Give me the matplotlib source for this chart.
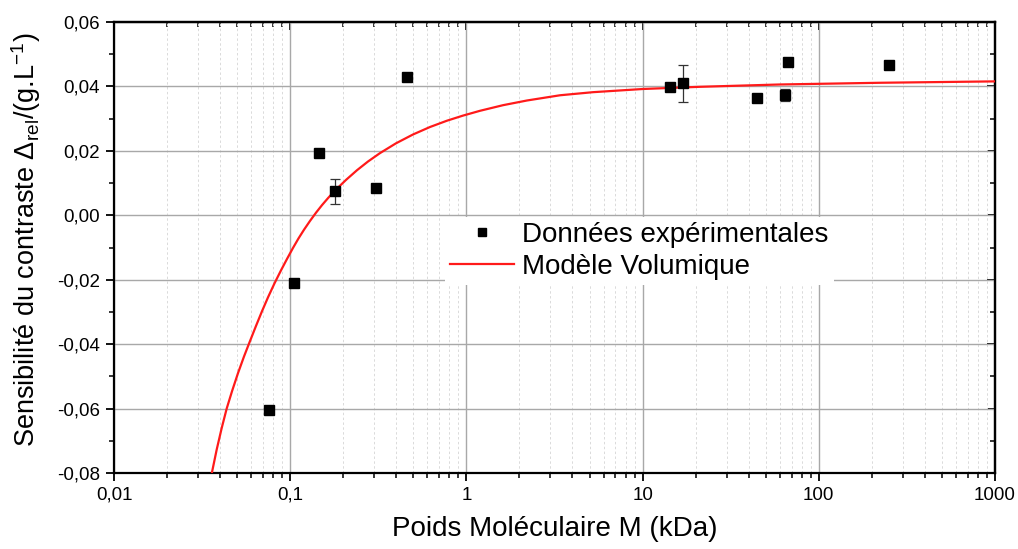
import matplotlib
matplotlib.use("Agg")
import matplotlib.pyplot as plt
from matplotlib.lines import Line2D
from matplotlib.ticker import FixedLocator, FuncFormatter, LogLocator, MultipleLocator, NullFormatter

plt.rcParams['font.family'] = ['Liberation Sans', 'DejaVu Sans']

# Experimental data (molecular weight in kDa, relative contrast sensitivity)
mw_data = [0.0759, 0.105, 0.1455, 0.1795, 0.307, 0.46, 14.3, 17.0, 44.4, 64.6, 66.6, 250.0]
delta_data = [-0.0604, -0.0210, 0.0193, 0.0075, 0.0085, 0.0429, 0.0399, 0.0410, 0.0365, 0.0373, 0.0477, 0.0468]
delta_err = [0.0, 0.0, 0.0, 0.0039, 0.0, 0.0012, 0.0, 0.0057, 0.0, 0.0018, 0.0, 0.0]

# Volumetric model curve
mw_model = [0.035847, 0.038266, 0.040848, 0.043608, 0.046745, 0.05055, 0.054663, 0.058749,
            0.06395, 0.069174, 0.074817, 0.081455, 0.08867, 0.095906, 0.10373, 0.11147,
            0.11977, 0.12954, 0.14011, 0.15155, 0.1639, 0.17963, 0.20737, 0.2394, 0.27637,
            0.32335, 0.39853, 0.49778, 0.62146, 0.77606, 0.95656, 1.1945, 1.6134, 2.2078,
            3.3984, 5.2303, 10.053, 21.17, 60.24, 222.6, 1000.0]
delta_model = [-0.0802, -0.07271, -0.06604, -0.05998, -0.05461, -0.04899, -0.04384, -0.03943,
               -0.03434, -0.02977, -0.02546, -0.02111, -0.01708, -0.01354, -0.01012, -0.00717,
               -0.00447, -0.00174, 0.00081, 0.00317, 0.00534, 0.0077, 0.01099, 0.014, 0.0167,
               0.01931, 0.02235, 0.02509, 0.02741, 0.02937, 0.03095, 0.03244, 0.03418, 0.03564,
               0.03726, 0.03822, 0.03921, 0.03989, 0.04061, 0.04114, 0.04157]

x_ticks = [0.01, 0.1, 1, 10, 100, 1000]
x_tick_labels = ['0,01', '0,1', '1', '10', '100', '1000']

fig = plt.figure(figsize=(10.18, 5.49), dpi=100)
ax = fig.add_axes([0.112, 0.1384, 0.8654, 0.8215])

ax.set_xscale('log')
ax.set_xlim(0.01, 1000)
ax.set_ylim(-0.08, 0.06)

ax.plot(mw_model, delta_model, color='#ff1a1a', lw=1.6, zorder=3, solid_joinstyle='round')
ax.errorbar(mw_data, delta_data, yerr=delta_err, fmt='s', color='black', ms=6.5,
            ecolor='#333333', elinewidth=0.9, capsize=3.6, capthick=0.9, zorder=4)

# ticks
ax.xaxis.set_major_locator(FixedLocator(x_ticks))
ax.xaxis.set_major_formatter(FuncFormatter(lambda v, p: x_tick_labels[x_ticks.index(v)] if v in x_ticks else ''))
ax.xaxis.set_minor_locator(LogLocator(base=10, subs=range(2, 10), numticks=50))
ax.xaxis.set_minor_formatter(NullFormatter())
ax.yaxis.set_major_locator(MultipleLocator(0.02))
ax.yaxis.set_minor_locator(MultipleLocator(0.01))
ax.yaxis.set_major_formatter(FuncFormatter(lambda v, p: f"{v:.2f}".replace('.', ',').replace('−', '-')))

ax.tick_params(axis='both', which='major', direction='out', length=6, width=1.3, labelsize=13.5, pad=4)
ax.tick_params(axis='both', which='minor', direction='out', length=3.5, width=1.1)
ax.tick_params(top=False, right=False)
# inward ticks on top and right
secx = ax.secondary_xaxis('top')
secx.xaxis.set_major_locator(FixedLocator(x_ticks))
secx.xaxis.set_minor_locator(LogLocator(base=10, subs=range(2, 10), numticks=50))
secx.tick_params(which='major', direction='in', length=6, width=1.3, labeltop=False)
secx.tick_params(which='minor', direction='in', length=3.5, width=1.1)
secx.xaxis.set_major_formatter(NullFormatter())
secx.xaxis.set_minor_formatter(NullFormatter())
secy = ax.secondary_yaxis('right')
secy.yaxis.set_major_locator(MultipleLocator(0.02))
secy.yaxis.set_minor_locator(MultipleLocator(0.01))
secy.tick_params(which='major', direction='in', length=6, width=1.3, labelright=False)
secy.tick_params(which='minor', direction='in', length=3.5, width=1.1)
secy.yaxis.set_major_formatter(NullFormatter())
for sp in list(ax.spines.values()) + list(secx.spines.values()) + list(secy.spines.values()):
    sp.set_linewidth(1.6)

# grid
ax.grid(True, which='major', axis='both', color='#a8a8a8', lw=1.0, ls='-', zorder=0)
ax.grid(True, which='minor', axis='x', color='#dadada', lw=0.7, ls=(0, (2.5, 2.5)), zorder=0)
ax.set_axisbelow(True)

ax.set_xlabel('Poids Moléculaire M (kDa)', fontsize=20, labelpad=9)
ax.set_ylabel('Sensibilité du contraste Δ$_{\\mathregular{rel}}$/(g.L$^{\\mathregular{-1}}$)',
              fontsize=19.5)
ax.yaxis.set_label_coords(-0.0806, 0.517)

h_data = Line2D([], [], ls='none', marker='s', color='black', ms=6)
h_model = Line2D([], [], color='#ff1a1a', lw=1.6)
leg = ax.legend([h_data, h_model], ['Données expérimentales', 'Modèle Volumique'],
                loc='center', bbox_to_anchor=(0.5964, 0.4923),
                fontsize=20, frameon=True, fancybox=False, edgecolor='none', facecolor='white',
                framealpha=1, handlelength=2.3, handletextpad=0.3, labelspacing=0.2,
                borderpad=0.2)

fig.savefig('out.png', dpi=100)
